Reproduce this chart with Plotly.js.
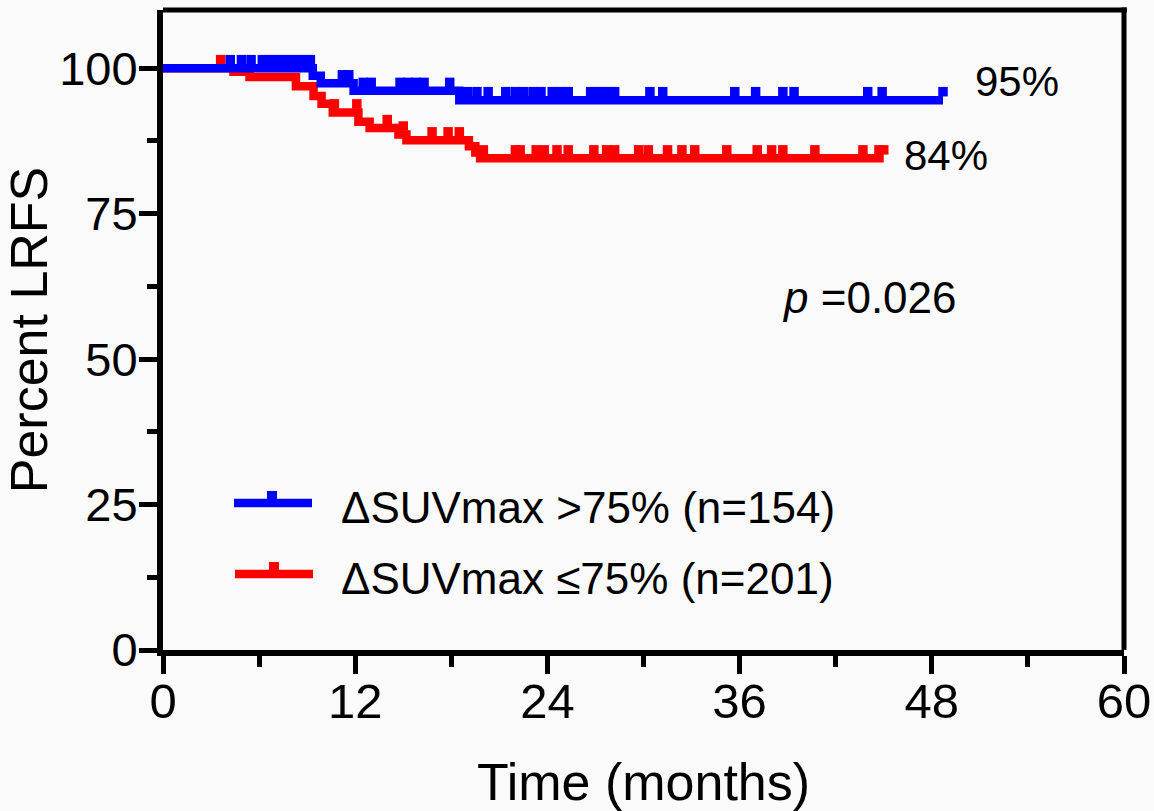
<!DOCTYPE html>
<html>
<head>
<meta charset="utf-8">
<script src="https://cdn.plot.ly/plotly-3.0.1.min.js"></script>
<style>
  html, body { margin: 0; padding: 0; background: #fafafa; }
  #chart { width: 1154px; height: 811px; }
</style>
</head>
<body>
<div id="chart"></div>
<script>
// ---- Data ----
// Group 1: ΔSUVmax >75% (n=154) — step times (months) and survival (%)
const blueTimes = [0, 9.35, 9.85, 11.9, 18.5, 48.7];
const blueSurv  = [100, 98.7, 97.4, 96.1, 94.5, 94.5];
const blueCensor = [4.2, 4.9, 5.5, 6.2, 6.7, 7.2, 7.7, 8.2, 8.7, 9.2,
  11.2, 11.6, 12.5, 13.0, 14.8, 15.3, 15.8, 16.3, 17.9,
  19.0, 19.6, 20.3, 21.4, 22.0, 22.5, 23.1, 23.6, 24.3, 24.8, 25.3,
  26.7, 27.2, 27.7, 28.2, 30.4, 31.2, 35.7, 37.0, 38.7, 39.4, 44.0, 44.9, 48.7];

// Group 2: ΔSUVmax ≤75% (n=201)
const redTimes = [0, 4.4, 5.4, 8.3, 9.4, 9.9, 10.6, 12.2, 12.9, 14.7, 15.2, 19.1, 19.5, 19.8, 45.0];
const redSurv  = [100, 99.4, 98.5, 96.9, 95.2, 93.9, 92.4, 90.8, 89.7, 88.6, 87.6, 86.6, 85.5, 84.5, 84.5];
const redCensor = [3.6, 10.7, 12.1, 14.0, 15.0, 16.8, 17.8, 18.5,
  20.0, 22.0, 22.3, 23.3, 23.8, 24.6, 25.3, 26.9, 27.7, 28.2, 29.7, 30.3,
  31.5, 32.4, 33.2, 35.2, 37.1, 38.0, 38.7, 40.7, 43.7, 44.7, 45.0];

const seriesNames = ['ΔSUVmax >75% (n=154)', 'ΔSUVmax ≤75% (n=201)'];
const endLabels = ['95%', '84%'];
const pValueText = '<i>p</i> =0.026';

const xTicks = [0, 12, 24, 36, 48, 60];
const yTicks = [0, 25, 50, 75, 100];

// ---- Layout constants ----
const W = 1154, H = 811;
const M = {l: 163, r: 30, t: 10, b: 161};
const plotH = H - M.t - M.b;
const plotW = W - M.l - M.r;
const yMax = 110;
const pxPerUnit = plotH / yMax;
const lineW = 8.5;
const markSize = 9.5;
const censorOffset = (lineW / 2 + markSize / 2 - 0.5) / pxPerUnit; // censor tick sits on top of the line

function survAt(times, surv, t) {
  let s = surv[0];
  for (let i = 0; i < times.length; i++) { if (times[i] <= t) s = surv[i]; }
  return s;
}

const BLUE = '#0000ff', RED = '#ff0000';
const FONT = 'Liberation Sans, Arial, Helvetica, sans-serif';

const traces = [
  {x: redTimes, y: redSurv, mode: 'lines', line: {shape: 'hv', color: RED, width: lineW},
   name: seriesNames[1], showlegend: false, hoverinfo: 'skip'},
  {x: redCensor, y: redCensor.map(t => survAt(redTimes, redSurv, t) + censorOffset),
   mode: 'markers', marker: {symbol: 'square', size: markSize, color: RED}, showlegend: false, hoverinfo: 'skip'},
  {x: blueTimes, y: blueSurv, mode: 'lines', line: {shape: 'hv', color: BLUE, width: lineW},
   name: seriesNames[0], showlegend: false, hoverinfo: 'skip'},
  {x: blueCensor, y: blueCensor.map(t => survAt(blueTimes, blueSurv, t) + censorOffset),
   mode: 'markers', marker: {symbol: 'square', size: markSize, color: BLUE}, showlegend: false, hoverinfo: 'skip'}
];

function px2x(px) { return (px - M.l) / plotW; }
function px2y(py) { return (H - M.b - py) / plotH; }

const shapes = [
  // frame top and right
  {type: 'line', xref: 'paper', yref: 'paper', x0: 0, x1: 1.003, y0: 1, y1: 1, line: {color: '#000', width: 5}},
  {type: 'line', xref: 'paper', yref: 'paper', x0: 1, x1: 1, y0: 0, y1: 1.004, line: {color: '#000', width: 5}},
  // legend symbols
  {type: 'line', xref: 'paper', yref: 'paper', x0: px2x(234), x1: px2x(312), y0: px2y(503), y1: px2y(503), line: {color: BLUE, width: 8.5}},
  {type: 'rect', xref: 'paper', yref: 'paper', x0: px2x(267), x1: px2x(277), y0: px2y(491), y1: px2y(500), fillcolor: BLUE, line: {width: 0}},
  {type: 'line', xref: 'paper', yref: 'paper', x0: px2x(235), x1: px2x(313), y0: px2y(574), y1: px2y(574), line: {color: RED, width: 8.5}},
  {type: 'rect', xref: 'paper', yref: 'paper', x0: px2x(269), x1: px2x(279), y0: px2y(562), y1: px2y(571), fillcolor: RED, line: {width: 0}}
];

const annotations = [
  {xref: 'paper', yref: 'paper', x: px2x(339), y: px2y(507), xanchor: 'left', yanchor: 'middle', showarrow: false,
   text: seriesNames[0], font: {family: FONT, size: 44, color: '#000'}},
  {xref: 'paper', yref: 'paper', x: px2x(339), y: px2y(578), xanchor: 'left', yanchor: 'middle', showarrow: false,
   text: seriesNames[1], font: {family: FONT, size: 44, color: '#000'}},
  {xref: 'paper', yref: 'paper', x: px2x(1017), y: px2y(81), xanchor: 'center', yanchor: 'middle', showarrow: false,
   text: endLabels[0], font: {family: FONT, size: 42, color: '#000'}},
  {xref: 'paper', yref: 'paper', x: px2x(946), y: px2y(155), xanchor: 'center', yanchor: 'middle', showarrow: false,
   text: endLabels[1], font: {family: FONT, size: 42, color: '#000'}},
  {xref: 'paper', yref: 'paper', x: px2x(869), y: px2y(297), xanchor: 'center', yanchor: 'middle', showarrow: false,
   text: pValueText, font: {family: FONT, size: 44, color: '#000'}}
];

const layout = {
  width: W, height: H,
  margin: M,
  paper_bgcolor: '#fafafa', plot_bgcolor: '#fafafa',
  showlegend: false,
  font: {family: FONT, color: '#000'},
  xaxis: {
    range: [0, 60], tickvals: xTicks, ticktext: xTicks.map(String),
    showgrid: false, zeroline: false,
    showline: true, linecolor: '#000', linewidth: 6,
    ticks: 'outside', ticklen: 18, tickwidth: 5, tickcolor: '#000',
    minor: {dtick: 6, tick0: 0, ticks: 'outside', ticklen: 11, tickwidth: 5, tickcolor: '#000', showgrid: false},
    tickfont: {family: FONT, size: 49, color: '#000'},
    ticklabelstandoff: -15,
    title: {text: 'Time (months)', font: {family: FONT, size: 52, color: '#000'}, standoff: 51},
    automargin: false, fixedrange: true
  },
  yaxis: {
    range: [0, yMax], tickvals: yTicks, ticktext: yTicks.map(String),
    showgrid: false, zeroline: false,
    showline: true, linecolor: '#000', linewidth: 6,
    ticks: 'outside', ticklen: 18, tickwidth: 5, tickcolor: '#000',
    minor: {dtick: 12.5, tick0: 0, ticks: 'outside', ticklen: 10, tickwidth: 5, tickcolor: '#000', showgrid: false},
    tickfont: {family: FONT, size: 47, color: '#000'},
    ticklabelstandoff: -8,
    title: {text: 'Percent LRFS', font: {family: FONT, size: 52, color: '#000'}, standoff: 15},
    automargin: false, fixedrange: true
  },
  shapes: shapes,
  annotations: annotations
};

Plotly.newPlot('chart', traces, layout, {staticPlot: true, displayModeBar: false});
</script>
</body>
</html>
